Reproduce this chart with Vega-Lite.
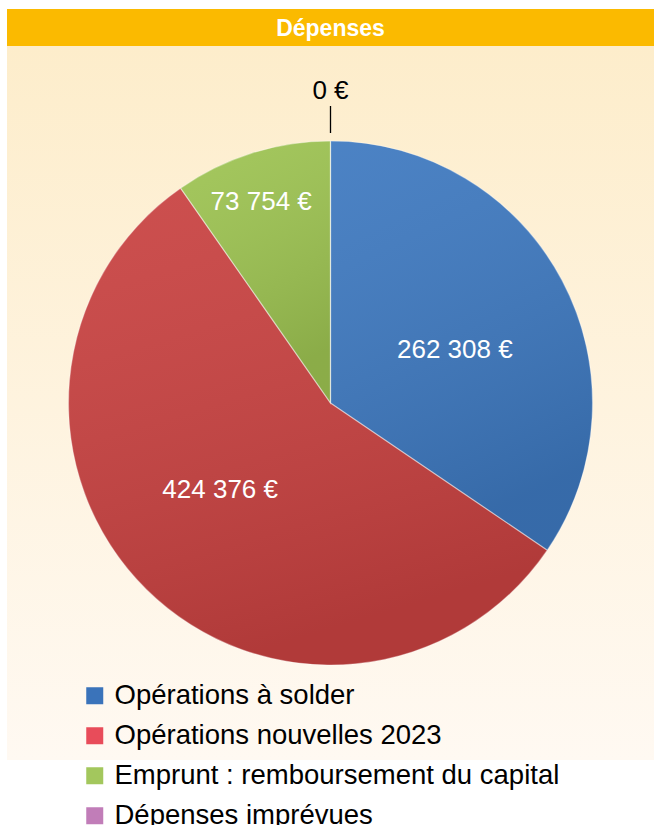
{
  "$schema": "https://vega.github.io/schema/vega-lite/v6.json",
  "padding": {"left": 7, "top": 9, "right": 0, "bottom": 0},
  "background": "#ffffff",
  "spacing": 0,
  "config": {"view": {"stroke": null}, "font": "Liberation Sans"},
  "datasets": {
    "depenses": [
      {"poste": "Opérations à solder", "valeur": 262308, "label": "262 308 €", "ordre": 1},
      {"poste": "Opérations nouvelles 2023", "valeur": 424376, "label": "424 376 €", "ordre": 2},
      {"poste": "Emprunt : remboursement du capital", "valeur": 73754, "label": "73 754 €", "ordre": 3},
      {"poste": "Dépenses imprévues", "valeur": 0, "label": "0 €", "ordre": 4}
    ]
  },
  "vconcat": [
    {
      "width": 647,
      "height": 37,
      "view": {"fill": "#FBBA00", "stroke": null},
      "data": {"values": [{"titre": "Dépenses"}]},
      "mark": {"type": "text", "font": "Liberation Sans", "fontWeight": "bold", "fontSize": 23, "fill": "#ffffff", "baseline": "middle", "align": "center", "dy": 1},
      "encoding": {"text": {"field": "titre", "type": "nominal"}}
    },
    {
      "width": 647,
      "height": 714,
      "view": {
        "fill": {"gradient": "linear", "x1": 0, "y1": 0, "x2": 0, "y2": 1, "stops": [{"offset": 0, "color": "#FDEDCB"}, {"offset": 1, "color": "#FFF9F2"}]},
        "stroke": null
      },
      "data": {"name": "depenses"},
      "encoding": {
        "theta": {"field": "valeur", "type": "quantitative", "stack": true},
        "order": {"field": "ordre", "type": "quantitative"}
      },
      "resolve": {"scale": {"fill": "independent"}, "legend": {"fill": "independent"}},
      "layer": [
        {
          "mark": {"type": "arc", "outerRadius": 262},
          "encoding": {
            "fill": {
              "field": "poste", "type": "nominal",
              "scale": {
                "domain": ["Opérations à solder", "Opérations nouvelles 2023", "Emprunt : remboursement du capital", "Dépenses imprévues"],
                "range": ["#3E79C0", "#C94241", "#9EC452", "#C07BB5"]
              },
              "legend": null
            }
          }
        },
        {
          "mark": {
            "type": "arc", "outerRadius": 262,
            "fill": {"gradient": "linear", "x1": 0, "y1": 0, "x2": 0.3, "y2": 1, "stops": [{"offset": 0, "color": "rgba(255,255,255,0.07)"}, {"offset": 1, "color": "rgba(0,0,0,0.12)"}]},
            "stroke": "#ffffff", "strokeOpacity": 0.35, "strokeWidth": 1.2
          },
          "encoding": {"detail": {"field": "poste", "type": "nominal"}}
        },
        {
          "mark": {"type": "arc", "innerRadius": 270, "outerRadius": 297, "fillOpacity": 0, "stroke": "#000000", "strokeWidth": 1.3},
          "encoding": {"detail": {"field": "poste", "type": "nominal"}, "strokeOpacity": {"condition": {"test": "datum.valeur === 0", "value": 1}, "value": 0}}
        },
        {
          "mark": {"type": "text", "radius": 135, "dx": 5, "dy": 10, "fill": "#ffffff", "fontSize": 26},
          "encoding": {"detail": {"field": "poste", "type": "nominal"}, "text": {"field": "label", "type": "nominal"}, "opacity": {"condition": {"test": "datum.ordre === 1", "value": 1}, "value": 0}}
        },
        {
          "mark": {"type": "text", "radius": 140, "dx": -12, "dy": -13, "fill": "#ffffff", "fontSize": 26},
          "encoding": {"detail": {"field": "poste", "type": "nominal"}, "text": {"field": "label", "type": "nominal"}, "opacity": {"condition": {"test": "datum.ordre === 2", "value": 1}, "value": 0}}
        },
        {
          "mark": {"type": "text", "radius": 211, "dx": -6, "dy": 0, "fill": "#ffffff", "fontSize": 26},
          "encoding": {"detail": {"field": "poste", "type": "nominal"}, "text": {"field": "label", "type": "nominal"}, "opacity": {"condition": {"test": "datum.ordre === 3", "value": 1}, "value": 0}}
        },
        {
          "mark": {"type": "text", "radius": 312, "fill": "#000000", "fontSize": 26},
          "encoding": {"detail": {"field": "poste", "type": "nominal"}, "text": {"field": "label", "type": "nominal"}, "opacity": {"condition": {"test": "datum.ordre === 4", "value": 1}, "value": 0}}
        },
        {
          "mark": {"type": "point", "filled": true, "opacity": 0},
          "encoding": {
            "fill": {
              "field": "poste", "type": "nominal",
              "scale": {
                "domain": ["Opérations à solder", "Opérations nouvelles 2023", "Emprunt : remboursement du capital", "Dépenses imprévues"],
                "range": ["#3A73BA", "#E84C5A", "#A3C75D", "#C17DB8"]
              },
              "legend": {
                "orient": "none", "legendX": 74, "legendY": 636, "title": null, "padding": 0,
                "direction": "vertical",
                "symbolType": "square", "symbolSize": 289, "symbolStrokeWidth": 0, "symbolOpacity": 1,
                "labelFont": "Liberation Sans", "labelFontSize": 27.5, "labelColor": "#000000",
                "labelOffset": 6, "rowPadding": 11, "labelLimit": 600
              }
            }
          }
        }
      ]
    }
  ]
}
